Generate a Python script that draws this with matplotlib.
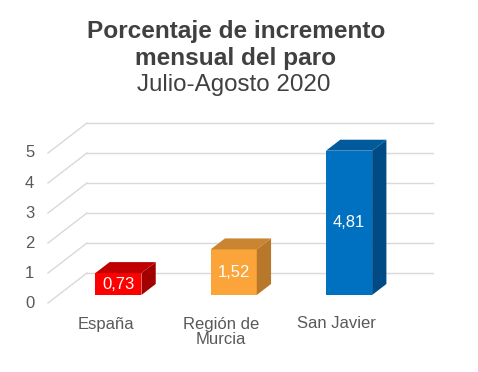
import matplotlib
matplotlib.use("Agg")
import matplotlib.pyplot as plt
import numpy as np

plt.rcParams['font.family'] = ['Liberation Sans', 'DejaVu Sans']

categories = ["España", "Región de\nMurcia", "San Javier"]
values = [0.73, 1.52, 4.81]
value_labels = ["0,73", "1,52", "4,81"]
yticks = [0, 1, 2, 3, 4, 5]
front_colors = ["#FF0000", "#FBA43A", "#0070C0"]
top_colors = ["#C00000", "#C98531", "#005A9C"]
side_colors = ["#A20000", "#B8782C", "#004B85"]

DX, DY = 0.338, 1.0      # full depth offset (category units, value units)
d1, d2 = 0.267, 0.633    # bar front/back depth fractions
w = 0.40
shift = 0.02
grid_c = "#D9D9D9"
text_c = "#595959"
title_c = "#404040"

fig = plt.figure(figsize=(4.78, 3.72), dpi=100)
ax = fig.add_axes([48/478, 69/372, 385/478, 180/372])
ax.set_xlim(-0.5, 2.5 + DX)
ax.set_ylim(0, 6)
ax.axis('off')

# gridlines: diagonals on left + back wall horizontals
for v in yticks:
    ax.plot([-0.5, -0.5 + DX], [v, v + DY], color=grid_c, lw=1, zorder=1, clip_on=False)
    ax.plot([-0.5 + DX, 2.5 + DX], [v + DY, v + DY], color=grid_c, lw=1, zorder=1, clip_on=False)
    ax.text(-0.66, v, str(v), ha='center', va='center', fontsize=12, color=text_c)

x = np.arange(len(categories))
xf = x + d1 * DX + shift
bars = ax.bar(xf, values, width=w, bottom=d1 * DY, color=front_colors, zorder=3)
for i, v in enumerate(values):
    l, r = xf[i] - w/2, xf[i] + w/2
    top = d1 * DY + v
    ox, oy = (d2 - d1) * DX, (d2 - d1) * DY
    ax.fill([l, r, r + ox, l + ox], [top, top, top + oy, top + oy],
            color=top_colors[i], zorder=3, lw=0)
    ax.fill([r, r + ox, r + ox, r], [d1 * DY, d1 * DY + oy, top + oy, top],
            color=side_colors[i], zorder=3, lw=0)
    ax.text(xf[i], d1 * DY + v / 2, value_labels[i], ha='center', va='center',
            color='white', fontsize=12, zorder=4)
    ax.text(x[i], -0.45, categories[i], ha='center', va='top', fontsize=12,
            color=text_c, linespacing=1.0, clip_on=False)

fig.text(236/478, 1 - 38/372, "Porcentaje de incremento", ha='center', va='baseline',
         fontsize=17.6, fontweight='bold', color=title_c)
fig.text(236/478, 1 - 65/372, "mensual del paro", ha='center', va='baseline',
         fontsize=17.6, fontweight='bold', color=title_c)
fig.text(234/478, 1 - 91/372, "Julio-Agosto 2020", ha='center', va='baseline',
         fontsize=17.4, color=title_c)

fig.savefig("out.png", dpi=100)
